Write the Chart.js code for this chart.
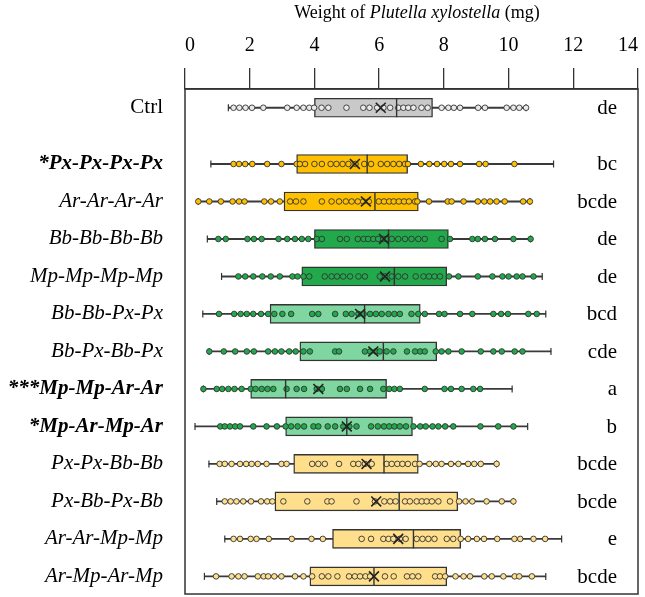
<!DOCTYPE html>
<html>
<head>
<meta charset="utf-8">
<script src="https://cdn.jsdelivr.net/npm/chart.js@4.4.1/dist/chart.umd.min.js"></script>
<style>
  html, body { margin: 0; padding: 0; background: #fff; }
  #wrap { width: 645px; height: 597px; }
</style>
</head>
<body>
<div id="wrap"><canvas id="boxChart" width="645" height="597"></canvas></div>
<script>
// Treatments, top to bottom
const groups = ['Ctrl', '*Px-Px-Px-Px', 'Ar-Ar-Ar-Ar', 'Bb-Bb-Bb-Bb', 'Mp-Mp-Mp-Mp',
  'Bb-Bb-Px-Px', 'Bb-Px-Bb-Px', '***Mp-Mp-Ar-Ar', '*Mp-Ar-Mp-Ar',
  'Px-Px-Bb-Bb', 'Px-Bb-Px-Bb', 'Ar-Ar-Mp-Mp', 'Ar-Mp-Ar-Mp'];
// significance letters
const letters = ['de', 'bc', 'bcde', 'de', 'de', 'bcd', 'cde', 'a', 'b', 'bcde', 'bcde', 'e', 'bcde'];

// box plot summary (mg)
const whiskerMin = [1.34, 0.80, 0.41, 0.69, 1.13, 0.55, 0.75, 0.57, 0.31, 0.74, 0.98, 1.23, 0.60];
const q1 =         [4.00, 3.45, 3.06, 4.00, 3.61, 2.63, 3.55, 2.03, 3.11, 3.36, 2.78, 4.56, 3.86];
const median =     [6.54, 5.63, 5.87, 6.29, 6.47, 5.55, 6.13, 3.11, 5.00, 6.15, 6.62, 7.06, 5.84];
const q3 =         [7.65, 6.88, 7.21, 8.14, 8.09, 7.27, 7.78, 6.23, 7.03, 7.21, 8.43, 8.52, 8.09];
const whiskerMax = [10.54, 11.39, 10.66, 10.68, 11.04, 11.15, 11.31, 10.11, 10.59, 9.63, 10.15, 11.64, 11.15];
const means =      [6.05, 5.25, 5.59, 6.15, 6.18, 5.41, 5.82, 4.12, 5.00, 5.61, 5.91, 6.59, 5.84];

// individual larvae (mg)
const points = [
  [1.50, 1.68, 1.87, 2.07, 2.42, 3.16, 3.45, 3.66, 3.84, 3.99, 4.22, 4.43, 4.99, 5.51, 5.70, 5.94, 6.13, 6.34,
   6.59, 6.75, 6.90, 7.06, 7.31, 7.50, 7.93, 8.14, 8.31, 8.50, 9.06, 9.27, 9.94, 10.15, 10.33, 10.54],
  [1.50, 1.67, 1.86, 2.08, 2.54, 2.98, 3.45, 3.55, 3.71, 4.00, 4.23, 4.50, 4.68, 4.87, 5.05, 5.27, 5.54, 5.75,
   6.05, 6.25, 6.44, 6.62, 6.80, 6.89, 7.29, 7.55, 7.79, 8.01, 8.22, 8.50, 9.09, 9.29, 10.18],
  [0.41, 0.75, 1.11, 1.47, 1.67, 1.84, 2.45, 2.66, 2.93, 3.25, 3.43, 3.66, 4.23, 4.53, 4.76, 4.97, 5.15, 5.34,
   5.51, 5.68, 5.99, 6.15, 6.31, 6.45, 6.61, 6.77, 6.92, 7.11, 7.18, 7.54, 8.12, 8.24, 8.61, 9.05, 9.25, 9.43,
   9.63, 9.88, 10.45, 10.66],
  [1.03, 1.26, 1.93, 2.13, 2.37, 2.89, 3.16, 3.40, 3.61, 3.81, 4.07, 4.23, 4.79, 5.00, 5.34, 5.52, 5.66, 5.82,
   5.97, 6.13, 6.23, 6.39, 6.59, 6.80, 7.00, 7.21, 7.41, 7.93, 8.19, 8.88, 9.05, 9.27, 9.58, 10.15, 10.68],
  [1.65, 1.86, 2.11, 2.39, 2.65, 2.93, 3.32, 3.48, 3.66, 3.84, 4.32, 4.53, 4.70, 4.89, 5.10, 5.36, 5.56, 6.02,
   6.18, 6.39, 6.59, 6.80, 7.13, 7.37, 7.54, 7.71, 7.88, 8.16, 8.45, 9.05, 9.50, 9.81, 10.00, 10.25, 10.43, 10.77],
  [1.05, 1.52, 1.72, 1.91, 2.11, 2.35, 2.57, 2.76, 3.01, 3.28, 3.93, 4.12, 4.64, 4.97, 5.15, 5.36, 5.52, 5.72,
   5.90, 6.08, 6.29, 6.47, 6.64, 7.00, 7.21, 7.41, 7.85, 8.02, 8.50, 8.88, 9.53, 9.77, 9.98, 10.61, 10.87],
  [0.75, 1.20, 1.55, 1.91, 2.13, 2.57, 2.78, 2.98, 3.22, 3.42, 3.66, 3.86, 4.64, 4.76, 5.56, 5.72, 5.90, 6.02,
   6.23, 6.44, 6.86, 7.11, 7.27, 7.41, 7.75, 7.93, 8.14, 8.55, 9.14, 9.53, 9.79, 10.19, 10.43],
  [0.57, 0.98, 1.15, 1.34, 1.53, 1.75, 2.03, 2.18, 2.37, 2.55, 2.73, 3.14, 3.45, 3.68, 4.07, 4.23, 4.79, 5.00,
   5.41, 5.72, 6.13, 6.31, 6.47, 6.64, 7.41, 8.02, 8.22, 8.55, 8.91, 9.12],
  [1.09, 1.23, 1.39, 1.55, 1.70, 2.11, 2.52, 2.84, 3.11, 3.28, 3.48, 3.68, 3.97, 4.12, 4.41, 4.64, 4.89, 5.08,
   5.30, 5.75, 5.96, 6.15, 6.31, 6.47, 6.64, 6.83, 7.06, 7.27, 7.44, 7.65, 7.83, 8.04, 8.29, 9.13, 9.68, 10.15],
  [1.07, 1.23, 1.44, 1.70, 1.89, 2.06, 2.25, 2.52, 2.98, 3.14, 3.93, 4.12, 4.32, 4.76, 5.20, 5.36, 5.56, 5.77,
   6.23, 6.39, 6.56, 6.72, 6.89, 7.11, 7.25, 7.55, 7.75, 7.93, 8.22, 8.45, 8.75, 8.94, 9.14, 9.63],
  [1.23, 1.41, 1.59, 1.80, 2.04, 2.35, 2.54, 2.70, 3.04, 3.78, 4.40, 4.53, 5.30, 5.87, 6.16, 6.34, 6.51, 6.80,
   6.95, 7.16, 7.32, 7.47, 7.63, 7.83, 8.19, 8.47, 8.67, 8.88, 9.32, 9.79, 10.15],
  [1.50, 1.70, 2.03, 2.21, 2.59, 3.30, 3.91, 4.26, 5.46, 5.75, 6.13, 6.29, 6.44, 6.64, 6.82, 7.16, 7.34, 7.52,
   7.71, 8.09, 8.29, 8.52, 8.75, 9.02, 9.24, 9.65, 10.18, 10.36, 10.77, 11.13],
  [0.96, 1.44, 1.65, 1.84, 2.25, 2.43, 2.57, 2.76, 2.98, 3.40, 3.66, 3.93, 4.23, 4.43, 4.71, 5.07, 5.25, 5.41,
   5.58, 5.72, 6.18, 6.45, 6.86, 7.03, 7.21, 7.73, 7.88, 8.04, 8.36, 8.61, 8.81, 9.25, 9.48, 9.84, 10.19, 10.33, 10.72]
];

// colours per row
const GRAY = '#c9c9c9', ORANGE = '#ffc000', GREEN = '#21a94c', LGREEN = '#7fd6a1', LYELLOW = '#ffdf8c';
const boxFill = [GRAY, ORANGE, ORANGE, GREEN, GREEN, LGREEN, LGREEN, LGREEN, LGREEN, LYELLOW, LYELLOW, LYELLOW, LYELLOW];
const dotFill = ['#eaeaea', ORANGE, ORANGE, GREEN, GREEN, GREEN, GREEN, GREEN, GREEN, LYELLOW, LYELLOW, LYELLOW, LYELLOW];
const INK = '#333333';
const SERIF = '"Liberation Serif", "Times New Roman", serif';

// Ctrl sits a bit apart from the treatment rows
const rowPos = i => (i === 0 ? 0 : i + 0.5);

const datasets = [
  { // whisker line
    type: 'bar',
    data: groups.map((g, i) => ({ y: rowPos(i), x: [whiskerMin[i], whiskerMax[i]] })),
    backgroundColor: '#3a3a3a',
    barThickness: 1.2,
    grouped: false,
    order: 6
  },
  { // whisker caps
    type: 'scatter',
    data: groups.flatMap((g, i) => [{ x: whiskerMin[i], y: rowPos(i) }, { x: whiskerMax[i], y: rowPos(i) }]),
    pointStyle: 'line',
    rotation: 90,
    pointRadius: 3.5,
    borderColor: INK,
    borderWidth: 1.2,
    order: 5.5
  },
  { // interquartile box
    type: 'bar',
    data: groups.map((g, i) => ({ y: rowPos(i), x: [q1[i], q3[i]] })),
    backgroundColor: boxFill,
    borderColor: INK,
    borderWidth: 1.4,
    borderSkipped: false,
    barThickness: 19,
    grouped: false,
    order: 5
  }
];

points.forEach((row, i) => {
  datasets.push({
    type: 'scatter',
    data: row.map(v => ({ x: v, y: rowPos(i) })),
    pointRadius: 2.8,
    pointBackgroundColor: dotFill[i],
    pointBorderColor: INK,
    pointBorderWidth: 0.9,
    order: 4
  });
});

datasets.push({ // median line
  type: 'scatter',
  data: groups.map((g, i) => ({ x: median[i], y: rowPos(i) })),
  pointStyle: 'line',
  rotation: 90,
  pointRadius: 9.5,
  borderColor: INK,
  borderWidth: 1.4,
  order: 2
});

datasets.push({ // mean
  type: 'scatter',
  data: groups.map((g, i) => ({ x: means[i], y: rowPos(i) })),
  pointStyle: 'crossRot',
  pointRadius: 7,
  borderColor: '#222',
  borderWidth: 1.6,
  order: 1
});

// frame, letters and the mixed-style axis title
const decorations = {
  id: 'decorations',
  afterDraw(chart) {
    const ctx = chart.ctx;
    const a = chart.chartArea;
    const ys = chart.scales.y;
    ctx.save();
    ctx.strokeStyle = INK;
    ctx.lineWidth = 1.5;
    ctx.strokeRect(a.left, a.top, a.right - a.left, a.bottom - a.top);

    ctx.fillStyle = '#000';
    ctx.font = '21px ' + SERIF;
    ctx.textAlign = 'right';
    ctx.textBaseline = 'middle';
    letters.forEach((t, i) => ctx.fillText(t, a.right - 21, ys.getPixelForValue(rowPos(i)) + 1));

    const parts = [['Weight of ', ''], ['Plutella xylostella', 'italic '], [' (mg)', '']];
    let total = 0;
    parts.forEach(p => { ctx.font = p[1] + '18px ' + SERIF; p.push(ctx.measureText(p[0]).width); total += p[2]; });
    let x = 417 - total / 2;
    ctx.textAlign = 'left';
    parts.forEach(p => { ctx.font = p[1] + '18px ' + SERIF; ctx.fillText(p[0], x, 13); x += p[2]; });
    ctx.restore();
  }
};

new Chart(document.getElementById('boxChart'), {
  type: 'bar',
  data: { datasets: datasets },
  plugins: [decorations],
  options: {
    indexAxis: 'y',
    responsive: false,
    animation: false,
    events: [],
    layout: { autoPadding: false, padding: { top: 31, right: 7, bottom: 3, left: 0 } },
    plugins: { legend: { display: false }, tooltip: { enabled: false } },
    scales: {
      x: {
        type: 'linear',
        position: 'top',
        min: 0,
        max: 14,
        offset: false,
        ticks: { stepSize: 2, align: 'inner', color: '#000', padding: 10, font: { family: SERIF, size: 20 } },
        grid: { drawOnChartArea: false, tickLength: 21, color: INK, lineWidth: 1.3, offset: false },
        border: { color: INK, width: 1.5 },
        afterFit: s => { s.height = 58; s.paddingLeft = 0; s.paddingRight = 0; }
      },
      y: {
        type: 'linear',
        reverse: true,
        offset: false,
        min: -0.5,
        max: 12.97,
        grid: { display: false, drawTicks: false, offset: false },
        border: { display: false },
        afterBuildTicks: s => { s.ticks = groups.map((g, i) => ({ value: rowPos(i) })); },
        ticks: {
          padding: 22,
          color: '#000',
          callback: (v, i) => groups[i],
          font: c => ({
            family: SERIF,
            size: 21,
            style: c.index === 0 ? 'normal' : 'italic',
            weight: [1, 7, 8].includes(c.index) ? 'bold' : 'normal'
          })
        },
        afterFit: s => { s.width = 185; s.paddingTop = 0; s.paddingBottom = 0; }
      }
    }
  }
});
</script>
</body>
</html>
